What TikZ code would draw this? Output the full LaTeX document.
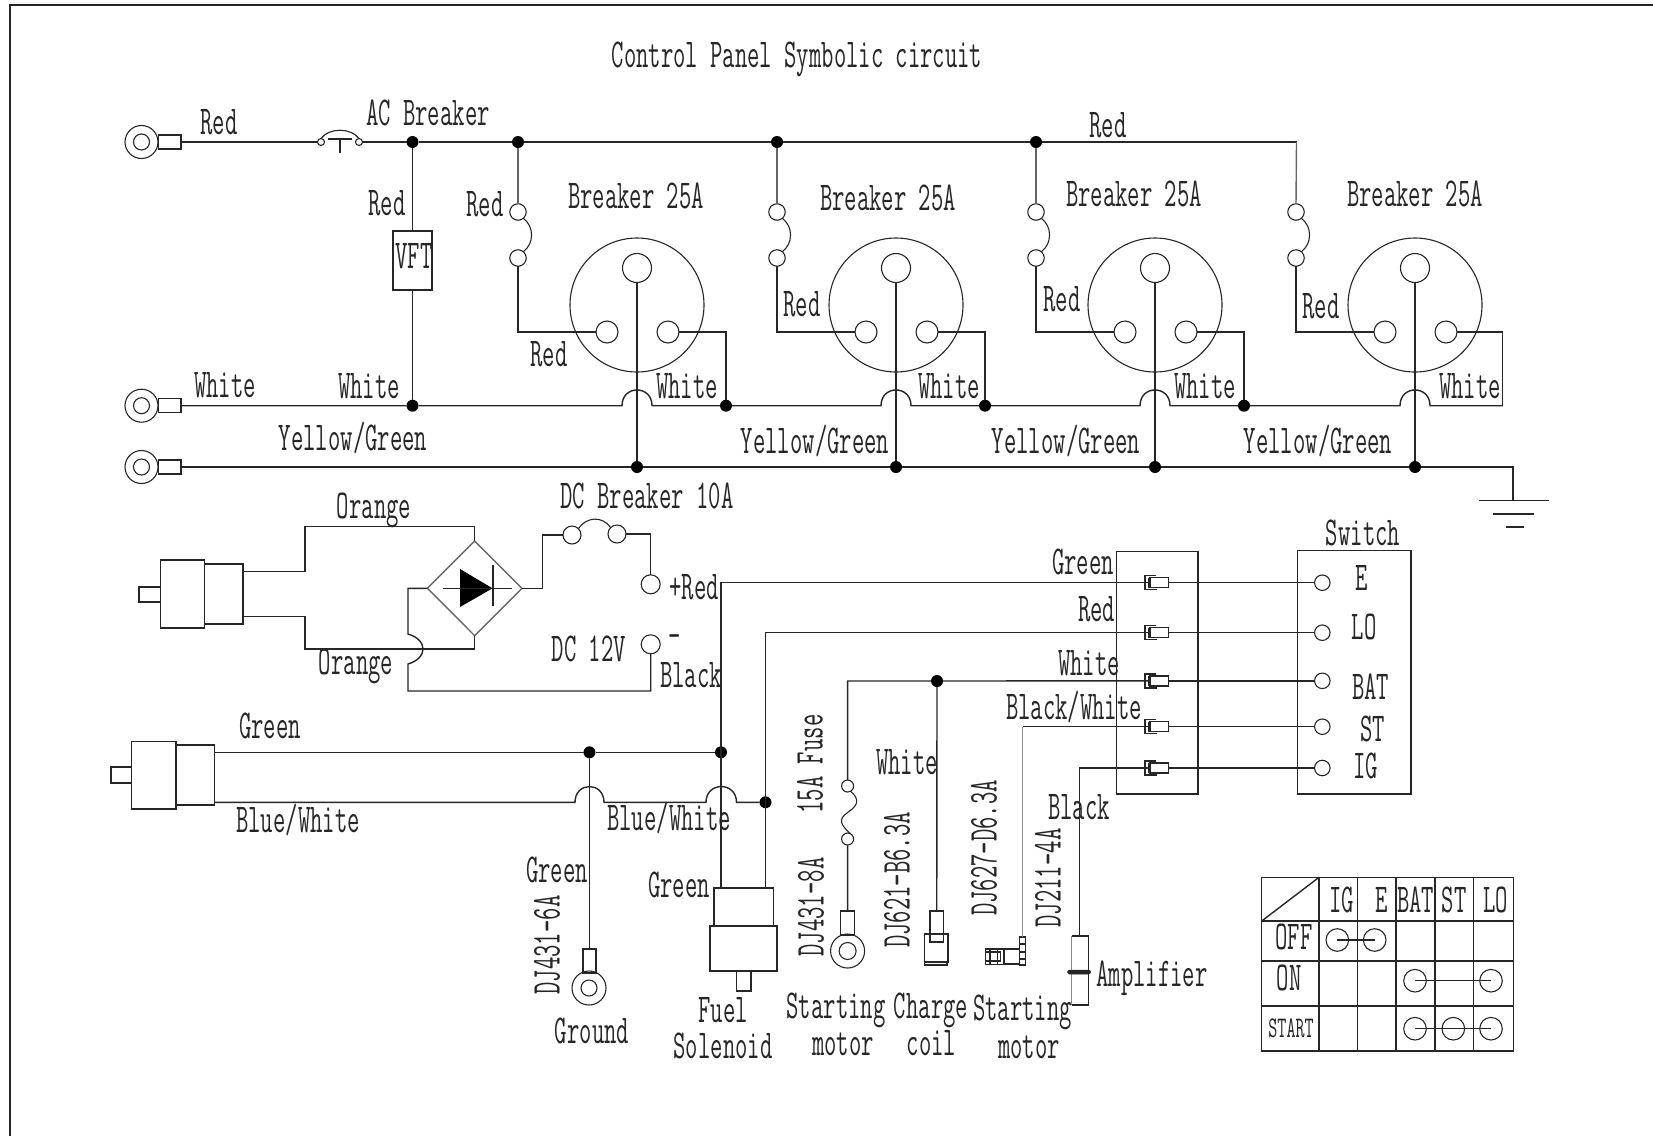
\documentclass[tikz,border=0pt]{standalone}
\usepackage{fontspec}
\newfontfamily\lblfont[FakeStretch=0.585]{Latin Modern Mono}
\newcommand{\lbl}{\lblfont\fontsize{41}{41}\selectfont}
\newcommand{\lblsm}{\lblfont\fontsize{30}{30}\selectfont}
\newcommand{\bx}[5]{\node[bxn,minimum width={((#4)-(#2))*1pt},minimum height={((#5)-(#3))*1pt}] (#1) at ({((#2)+(#4))/2},{((#3)+(#5))/2}) {};}
\tikzset{
  bxn/.style={draw,inner sep=0,outer sep=0},
  lab/.style={inner sep=0,outer sep=0,font=\lbl,text=black!85},
  labv/.style={lab,rotate=90},
  labs/.style={inner sep=0,outer sep=0,font=\lblsm,text=black!85},
  jdot/.style={circle,fill=black,draw=none,inner sep=0,outer sep=0,minimum size=12pt},
  pin/.style={circle,draw,line width=1.1pt,inner sep=0,outer sep=0,minimum size=#1},
  pin/.default=16pt,
  greyw/.style={draw=black!45},
  lightw/.style={draw=black!60},
}
\begin{document}
\begin{tikzpicture}[x=1pt,y=-1pt,line width=1.4pt,color=black!85]
\useasboundingbox (0,0) rectangle (1653,1136);
% frame
\draw[line width=2pt] (10,1136) -- (10,5) -- (1653,5);
% title
\node[lab] (title) at (797,59) {Control Panel Symbolic circuit};
% ---------- mains terminals
\foreach \n/\yy in {A/142,B/405.7,C/467}{
  \node[pin=33pt] (ring\n) at (141.5,\yy) {};
  \node[pin=16pt] (ringi\n) at (141.5,\yy) {};
  \bx{lug\n}{158.5}{\yy-7}{181}{\yy+7}
}
% AC breaker
\node[pin=7pt] (acL) at (321,142) {};
\node[pin=7pt] (acR) at (359,142) {};
\coordinate (acT) at (340,139);
\coordinate (acS) at (340,153);
\draw (328,139) -- (352,139);
\draw (acT) -- (acS);
\draw[line width=1.1pt] (acL.north) .. controls +(8,-11) and +(-8,-11) .. (acR.north);
\draw (lugA.east) -- (acL.west);
% top bus
\node[jdot] (vftTop) at (412.5,142) {};
\foreach \i/\c in {1/637,2/896,3/1155}{ \node[jdot] (top\i) at (\c-119,142) {}; }
\coordinate (top4) at (1296.5,142);
\draw (acR.east) -- (vftTop) -- (top1) -- (top2) -- (top3) -- (top4);
% VFT
\node[bxn,minimum width=39pt,minimum height=59pt] (vft) at (412.5,260.5) {};
\node[lab] (vftT) at (414,256) {VFT};
\node[jdot] (vftBot) at (412.5,405.7) {};
\draw (vftTop) -- (vft.north);
\draw (vft.south) -- (vftBot);
% breakers
\foreach \i/\c in {1/637,2/896,3/1155,4/1415}{
  \node[pin=16.5pt] (fa\i) at (\c-119,212) {};
  \node[pin=16.5pt] (fb\i) at (\c-119,258) {};
  \draw[line width=1.1pt] (fa\i.-50) .. controls +(11,8) and +(11,-8) .. (fb\i.50);
  \node[pin=134pt] (big\i) at (\c,305) {};
  \node[pin=29pt] (pt\i) at (\c,268) {};
  \node[pin=22pt] (pl\i) at (\c-30,332) {};
  \node[pin=22pt] (pr\i) at (\c+31,332) {};
  \node[jdot] (gd\i) at (\c,467) {};
  \coordinate (jL\i) at (\c-15,405.7);
  \coordinate (jR\i) at (\c+15,405.7);
  \draw[lightw] (top\i) -- (fa\i.north);
  \draw (fb\i.south) |- (pl\i.west);
  \draw (pt\i.south) -- (gd\i);
}
\foreach \i/\c in {1/637,2/896,3/1155}{ \node[jdot] (wd\i) at (\c+89,405.7) {}; \draw (pr\i.east) -| (wd\i); }
\coordinate (wd4) at (1502.5,405.7);
\draw (pr4.east) -| (wd4);
% white bus with jumps
\draw (lugB.east) -- (vftBot) -- (jL1) .. controls +(0,-21) and +(0,-21) .. (jR1) -- (wd1)
  -- (jL2) .. controls +(0,-21) and +(0,-21) .. (jR2) -- (wd2)
  -- (jL3) .. controls +(0,-21) and +(0,-21) .. (jR3) -- (wd3)
  -- (jL4) .. controls +(0,-21) and +(0,-21) .. (jR4) -- (wd4);
% earth bus
\coordinate (gnd) at (1513,467);
\coordinate (gndB) at (1513,500.7);
\draw (lugC.east) -- (gd1) -- (gd2) -- (gd3) -- (gd4) -- (gnd) -- (gndB);
\draw (1478.6,500.7) -- (1549,500.7);
\draw (1493,514) -- (1534,514);
\draw (1506,527) -- (1524,527);
% mains labels
\node[lab] (l1) at (219,122) {Red};
\node[lab] (l2) at (428,113) {AC Breaker};
\node[lab] (l3) at (387,203) {Red};
\node[lab] (l4) at (485,204) {Red};
\node[lab] (l5) at (1108,125) {Red};
\node[lab] (l6) at (549,354) {Red};
\node[lab] (l7) at (802,304) {Red};
\node[lab] (l8) at (1062,299) {Red};
\node[lab] (l9) at (1321,306) {Red};
\node[lab] (b1) at (636,196) {Breaker 25A};
\node[lab] (b2) at (888,198) {Breaker 25A};
\node[lab] (b3) at (1134,194) {Breaker 25A};
\node[lab] (b4) at (1415,194) {Breaker 25A};
\node[lab] (w1) at (225,385) {White};
\node[lab] (w2) at (369,386) {White};
\node[lab] (w3) at (687,386) {White};
\node[lab] (w4) at (949,386) {White};
\node[lab] (w5) at (1205,386) {White};
\node[lab] (w6) at (1470,386) {White};
\node[lab] (y1) at (353,438) {Yellow/Green};
\node[lab] (y2) at (815,441) {Yellow/Green};
\node[lab] (y3) at (1066,441) {Yellow/Green};
\node[lab] (y4) at (1318,441) {Yellow/Green};
% ---------- alternator plug
\bx{pgA}{139}{587}{160.7}{602}
\bx{pgB}{160.7}{560}{204.5}{628}
\bx{pgC}{204.5}{564}{243}{624}
% rectifier
\coordinate (dT) at (474.7,541);
\coordinate (dB) at (474.7,635.7);
\coordinate (dL) at (427.4,588.3);
\coordinate (dR) at (522,588.3);
\draw[lightw] (dT) -- (dR) -- (dB) -- (dL) -- cycle;
\fill[black] (460,569) -- (492.5,588.3) -- (460,607) -- cycle;
\draw (493,565) -- (493,606);
\draw (442.6,588.3) -- (512,588.3);
\draw (243,571.7) -| (305,526.7) -| (dT);
\draw (243,616.7) -| (305,649) -| (dB);
% DC breaker
\node[pin=18pt] (dcL) at (572,535) {};
\node[pin=18pt] (dcR) at (617,534) {};
\draw[line width=1.1pt] (dcL.north east) .. controls +(8,-12) and +(-8,-12) .. (dcR.north west);
\node[pin=19pt] (posT) at (650.7,584.3) {};
\node[pin=19pt] (negT) at (650.7,644.3) {};
\draw (dR) -| (542.3,535) -- (dcL.west);
\draw (dcR.east) -| (posT.north);
\draw (dL) -| (408,634) .. controls +(20,6) and +(20,-6) .. (408,664) -- (408,691) -| (negT.south);
% ---------- solenoid, terminals, switch
\bx{cbox}{1116.7}{551.7}{1198}{794}
\bx{swbox}{1297.7}{550.7}{1411}{794}
\foreach \i/\yy in {1/582.7,2/632.7,3/680.8,4/726.7,5/768}{
  \bx{tm\i}{1150}{\yy-5}{1168.3}{\yy+5}
  \node[pin=15.5pt] (sw\i) at (1322.3,\yy) {};
  \draw (tm\i.east) -- (sw\i.west);
  \draw (1156,\yy-7) -- (1145,\yy-7) -- (1145,\yy+7) -- (1157,\yy+7);
  \draw (1148.5,\yy-5) -- (1148.5,\yy+5);
}
\node[lab] (sE) at (1361.7,578) {E};
\node[lab] (sLO) at (1364,627) {LO};
\node[lab] (sBAT) at (1370.7,687) {BAT};
\node[lab] (sST) at (1372.7,729) {ST};
\node[lab] (sIG) at (1365.7,766) {IG};
\node[lab] (sSw) at (1363,533) {Switch};
\node[lab] (cG) at (1083,562) {Green};
\node[lab] (cR) at (1096.7,609) {Red};
\node[lab] (cW) at (1089,663) {White};
\node[lab] (cBW) at (1074,707) {Black/White};
% second plug
\bx{phA}{111}{767}{131.7}{783}
\bx{phB}{131.7}{741.7}{176}{809}
\bx{phC}{176}{745}{214.5}{805}
% solenoid body
\bx{solU}{714}{888}{773.6}{926}
\bx{solL}{710}{926}{777}{971}
\bx{solS}{736.5}{971}{751}{991}
% junctions
\node[jdot] (gA) at (589.5,752.3) {};
\node[jdot] (gB) at (721,752.3) {};
\node[jdot] (bD) at (765.5,802.3) {};
\coordinate (j1L) at (575,802.3);
\coordinate (j1R) at (604,802.3);
\coordinate (j2L) at (706,802.3);
\coordinate (j2R) at (736.5,802.3);
\draw (214.5,752.3) -- (gA) -- (gB);
\draw (214.5,802.3) -- (j1L) .. controls +(0,-21) and +(0,-21) .. (j1R) -- (j2L)
   .. controls +(0,-21) and +(0,-21) .. (j2R) -- (bD);
\draw (tm1.west) -| (721,888);
\draw (tm2.west) -| (765.5,888);
% ground lead
\bx{gLug}{583}{949}{596}{973}
\node[pin=34pt] (gRing) at (589,988) {};
\node[pin=16pt] (gRingI) at (589,988) {};
\draw (gA) -- (gLug.north);
% fuse lead
\node[jdot] (wJ) at (937,681) {};
\coordinate (wC) at (847.6,681);
\node[pin=12pt] (f15a) at (847.6,786) {};
\node[pin=12pt] (f15b) at (847.6,839) {};
\draw[line width=1.1pt] (f15a.-60) .. controls +(10,9) and +(10,-7) .. (847.6,812.5) .. controls +(-10,7) and +(-10,-9) .. (f15b.60);
\bx{fLug}{840.7}{911}{854.5}{935}
\node[pin=34pt] (fRing) at (847.6,951) {};
\node[pin=17pt] (fRingI) at (847.6,951) {};
\draw (tm3.west) -- (wJ) -- (wC) -- (f15a.north);
\draw (f15b.south) -- (fLug.north);
% charge coil connector
\bx{ccA}{930}{911}{943.5}{934}
\bx{ccB}{924.7}{934}{948}{962}
\bx{ccC}{930}{934}{943.5}{942}
\bx{ccD}{924.7}{962}{947}{965}
\draw (wJ) -- (ccA.north);
% starter connector
\coordinate (bwC) at (1022.5,726.7);
\bx{scA}{1019.3}{937}{1025.7}{965}
\bx{scB}{1004}{949}{1019.3}{964}
\bx{scC}{985.7}{949}{1004}{964.5}
\draw[line width=1.1pt] (990,949) -- (990,964.5) (997.3,949) -- (997.3,964.5) (1000.7,951) -- (1000.7,962) (985.7,952) -- (1000,952) (985.7,961) -- (1000,961) (1019.3,944) -- (1025.7,944) (1019.3,952) -- (1025.7,952) (1019.3,959) -- (1025.7,959);
\draw (tm4.west) -- (bwC);
\draw[greyw] (bwC) -- (scA.north);
% amplifier connector
\coordinate (ampT) at (1079.4,936);
\draw (1071.7,936) -- (1088.3,936) -- (1088.3,1005) -- (1071.7,1005);
\draw[greyw] (1071.7,936) -- (1071.7,1005);
\node[draw,fill=black!85,line width=.5pt,rounded corners=1.5pt,inner sep=0,outer sep=0,minimum width=23pt,minimum height=4pt] (ampB) at (1079.2,972) {};
\draw (tm5.west) -| (ampT);
% labels
\node[lab] (a1) at (374,510) {Orange};
\node[lab] (a2) at (647,496) {DC Breaker 10A};
\node[lab] (a3) at (694,587) {+Red};
\node[lab] (a4) at (356,666) {Orange};
\node[lab] (a5) at (589,649) {DC 12V};
\node[lab] (a6) at (675,642) {-};
\node[lab] (a7) at (691,675) {Black};
\node[lab] (a8) at (270,726) {Green};
\node[lab] (a9) at (298,820) {Blue/White};
\node[lab] (a10) at (669,818) {Blue/White};
\node[lab] (a11) at (557,870) {Green};
\node[lab] (a12) at (679,885) {Green};
\node[lab] (a13) at (592,1031) {Ground};
\node[lab] (a14) at (723,1010) {Fuel};
\node[lab] (a15) at (723,1046) {Solenoid};
\node[lab] (a16) at (836,1010) {Starting};
\node[lab] (a17) at (843,1044) {motor};
\node[lab] (a18) at (931,1010) {Charge};
\node[lab] (a19) at (931.6,1043) {coil};
\node[lab] (a20) at (1022.5,1012) {Starting};
\node[lab] (a21) at (1029,1047) {motor};
\node[lab] (a22) at (907,762) {White};
\node[lab] (a23) at (1079,807) {Black};
\node[lab] (a24) at (1152,978) {Amplifier};
\node[labv] (v1) at (547,945) {DJ431-6A};
\node[labv] (v2) at (811,907) {DJ431-8A};
\node[labv] (v3) at (897,880) {DJ621-B6.3A};
\node[labv] (v4) at (984,848) {DJ627-D6.3A};
\node[labv] (v5) at (1048,878) {DJ211-4A};
\node[labv] (v6) at (810,764) {15A Fuse};
% ---------- switch table
\draw (1261.7,877.3) rectangle (1513.7,1051);
\foreach \xx in {1319,1357.3,1396,1435,1473.7}{\draw (\xx,877.3) -- (\xx,1051);}
\foreach \yy in {921,961,1006}{\draw (1261.7,\yy) -- (1513.7,\yy);}
\draw (1261.7,921) -- (1319,877.3);
\node[lab] (hIG) at (1341.7,900) {IG};
\node[lab] (hE) at (1381.7,900) {E};
\node[lab] (hBAT) at (1415.7,900) {BAT};
\node[lab] (hST) at (1454,900) {ST};
\node[lab] (hLO) at (1495.7,900) {LO};
\node[lab] (rOFF) at (1294,937) {OFF};
\node[lab] (rON) at (1289,978) {ON};
\node[labs] (rST) at (1291,1028) {START};
\node[pin=22.6pt] (o1) at (1337.3,940) {};
\node[pin=22.6pt] (o2) at (1374.7,940) {};
\node[pin=22.6pt] (n1) at (1415,980.7) {};
\node[pin=22.6pt] (n2) at (1491,980.7) {};
\node[pin=22.6pt] (s1) at (1415,1028.7) {};
\node[pin=22.6pt] (s2) at (1453.3,1028.7) {};
\node[pin=22.6pt] (s3) at (1491,1028.7) {};
\draw (o1.center) -- (o2.center);
\draw (n1.center) -- (n2.center);
\draw (s1.center) -- (s3.center);
\end{tikzpicture}
\end{document}
